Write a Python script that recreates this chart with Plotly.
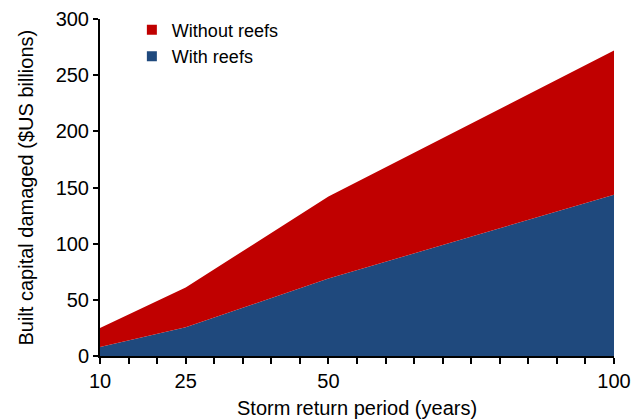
import plotly.graph_objects as go

return_period = [10, 25, 50, 100]
without_reefs = [25, 61, 142, 272]
with_reefs = [8, 25.5, 69, 143.5]
x_tick_vals = list(range(10, 101, 5))
x_tick_labels = {10: "10", 25: "25", 50: "50", 100: "100"}
y_tick_vals = [0, 50, 100, 150, 200, 250, 300]

RED = "#C00000"
BLUE = "#1F497D"
FONT = "Liberation Sans, Arial, sans-serif"

fig = go.Figure()
fig.add_trace(go.Scatter(x=return_period, y=with_reefs, mode="lines",
                         line=dict(width=0, color=BLUE), fill="tozeroy",
                         fillcolor=BLUE, showlegend=False, hoverinfo="skip"))
fig.add_trace(go.Scatter(x=return_period, y=without_reefs, mode="lines",
                         line=dict(width=0, color=RED), fill="tonexty",
                         fillcolor=RED, showlegend=False, hoverinfo="skip"))
# legend entries
fig.add_trace(go.Scatter(x=[None], y=[None], mode="markers", name="Without reefs",
                         marker=dict(symbol="square", size=10, color=RED)))
fig.add_trace(go.Scatter(x=[None], y=[None], mode="markers", name="With reefs",
                         marker=dict(symbol="square", size=10, color=BLUE)))

fig.update_layout(
    width=643, height=420,
    margin=dict(l=100, r=29, t=16, b=64),
    paper_bgcolor="white", plot_bgcolor="white",
    font=dict(family=FONT, size=20, color="black"),
    legend=dict(x=0.062, y=1.022, xanchor="left", yanchor="top",
                bgcolor="rgba(0,0,0,0)", font=dict(size=18),
                itemwidth=30, tracegroupgap=0, traceorder="normal"),
    xaxis=dict(range=[10, 100], tickmode="array", tickvals=x_tick_vals,
               ticktext=[x_tick_labels.get(v, "") for v in x_tick_vals],
               ticks="outside", ticklen=6, tickwidth=1.5, tickcolor="black",
               showline=True, linecolor="black", linewidth=2,
               showgrid=False, zeroline=False, automargin=False),
    yaxis=dict(range=[0, 300], tickmode="array", tickvals=y_tick_vals,
               ticks="outside", ticklen=5, tickwidth=1.5, tickcolor="black",
               showline=True, linecolor="black", linewidth=2,
               showgrid=False, zeroline=False, automargin=False),
    annotations=[
        dict(text="Storm return period (years)", xref="paper", yref="paper",
             x=0.5, y=0, xanchor="center", yanchor="middle", yshift=-52,
             showarrow=False, font=dict(size=20)),
        dict(text="Built capital damaged ($US billions)", xref="paper", yref="paper",
             x=0, y=0.5, xanchor="center", yanchor="middle", xshift=-75,
             textangle=-90, showarrow=False, font=dict(size=20)),
    ],
)

fig.write_html("out.html", config={"displayModeBar": False},
               post_script="document.body.style.margin='0';document.body.style.overflow='hidden';")
